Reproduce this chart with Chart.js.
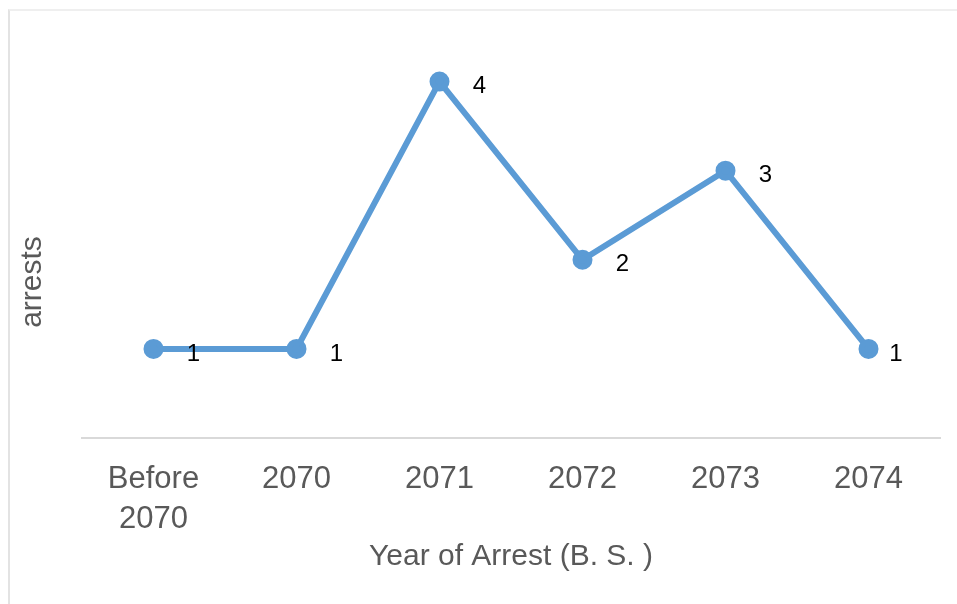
<!DOCTYPE html>
<html>
<head>
<meta charset="utf-8">
<title>Arrests by year</title>
<script src="https://cdn.jsdelivr.net/npm/chart.js@4/dist/chart.umd.min.js"></script>
<style>
    html, body { margin: 0; padding: 0; background: #fff; }
    #wrap { position: relative; width: 957px; height: 604px; }
    #frame {
        position: absolute; left: 8px; top: 9px; right: 0; bottom: 0;
        border-left: 2px solid #e3e3e3; border-top: 2px solid #efefef;
    }
    #arrestChart { position: absolute; left: 0; top: 0; }
</style>
</head>
<body>
<div id="wrap">
    <div id="frame"></div>
    <canvas id="arrestChart" width="957" height="604"></canvas>
</div>
<script>
const years = [['Before', '2070'], '2070', '2071', '2072', '2073', '2074'];
const arrests = [1, 1, 4, 2, 3, 1];
const yTitle = 'arrests';
const xTitle = 'Year of Arrest (B. S. )';

const textFont = "'Liberation Sans', Arial, sans-serif";

// writes the count just to the right of each point, kept inside the plot
const pointLabels = {
    id: 'pointLabels',
    afterDatasetsDraw(chart) {
        const ctx = chart.ctx;
        const meta = chart.getDatasetMeta(0);
        const maxX = chart.chartArea.right - 44;
        ctx.save();
        ctx.font = '24px ' + textFont;
        ctx.fillStyle = '#000';
        ctx.textAlign = 'center';
        ctx.textBaseline = 'middle';
        meta.data.forEach((pt, i) => {
            ctx.fillText(String(arrests[i]), Math.min(pt.x + 40, maxX), pt.y + 5);
        });
        ctx.restore();
    }
};

// vertical axis title, centred lower than the scale itself
const sideTitle = {
    id: 'sideTitle',
    afterDraw(chart) {
        const ctx = chart.ctx;
        ctx.save();
        ctx.translate(33, 282);
        ctx.rotate(-Math.PI / 2);
        ctx.font = '30px ' + textFont;
        ctx.fillStyle = '#595959';
        ctx.textAlign = 'center';
        ctx.textBaseline = 'middle';
        ctx.fillText(yTitle, 0, 0);
        ctx.restore();
    }
};

const ctx = document.getElementById('arrestChart').getContext('2d');
new Chart(ctx, {
    type: 'line',
    data: {
        labels: years,
        datasets: [{
            label: yTitle,
            data: arrests,
            borderColor: '#5b9bd5',
            backgroundColor: '#5b9bd5',
            borderWidth: 6,
            pointRadius: 7,
            pointHoverRadius: 7,
            tension: 0
        }]
    },
    options: {
        responsive: false,
        animation: false,
        layout: { padding: { top: 37, right: 17, bottom: 0, left: 0 } },
        plugins: {
            legend: { display: false },
            tooltip: { enabled: false }
        },
        scales: {
            x: {
                offset: true,
                grid: { display: false, drawTicks: false },
                border: { display: true, color: '#d9d9d9', width: 2 },
                ticks: {
                    color: '#595959',
                    font: { family: textFont, size: 31, lineHeight: 1.3 },
                    padding: 21,
                    maxRotation: 0,
                    autoSkip: false
                },
                title: {
                    display: true,
                    text: xTitle,
                    color: '#595959',
                    font: { family: textFont, size: 30 },
                    padding: { top: 0, bottom: 29 }
                },
                afterFit(scale) { scale.height = 604 - 438; }
            },
            y: {
                min: 0,
                max: 4.5,
                grid: { display: false, drawTicks: false },
                border: { display: false },
                ticks: { display: false },
                afterFit(scale) { scale.width = 82; }
            }
        }
    },
    plugins: [pointLabels, sideTitle]
});
</script>
</body>
</html>
